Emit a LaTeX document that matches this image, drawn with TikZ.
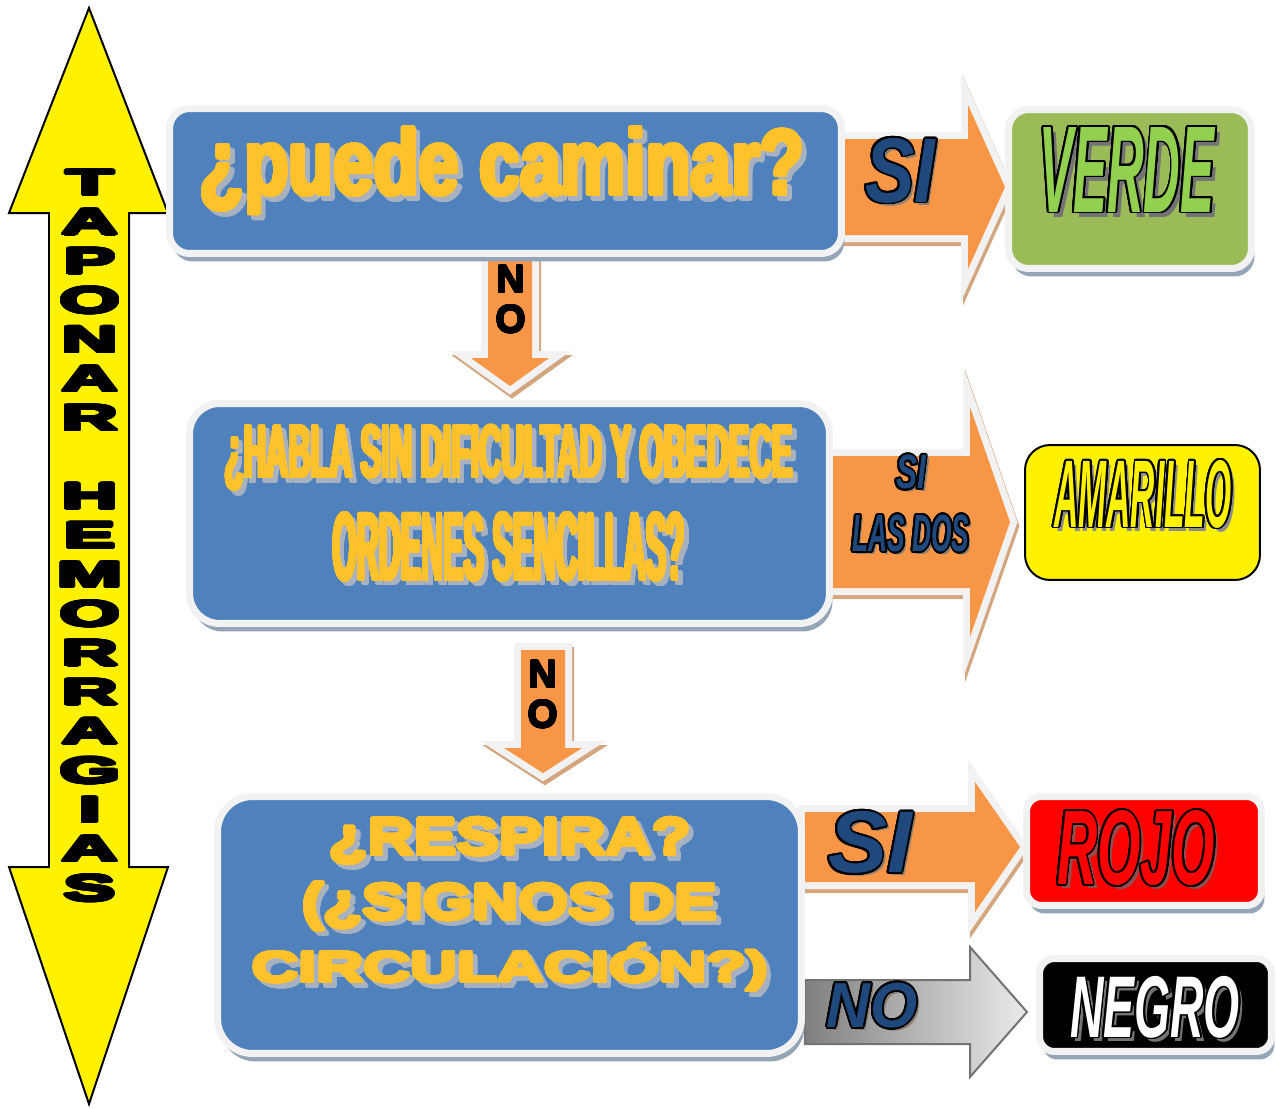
\documentclass[tikz,border=0pt]{standalone}
\usepackage{fontspec}
\usepackage{graphicx}
\usepackage{contour}
\usetikzlibrary{positioning,calc,backgrounds,shadows}

\newfontfamily\heavy{Liberation Sans Bold}
\newfontfamily\heavyit{Liberation Sans Bold Italic}

\definecolor{boxblue}{HTML}{4F81BD}
\definecolor{halo}{HTML}{F2F2F2}
\definecolor{boxshade}{HTML}{95A5B8}
\definecolor{arroworange}{HTML}{F79646}
\definecolor{arrowshade}{HTML}{D4A67F}
\definecolor{txtorange}{HTML}{FFC22B}
\definecolor{txtshade}{HTML}{A7B1C0}
\definecolor{sidark}{HTML}{1F497D}
\definecolor{lblshade}{HTML}{8A7E72}
\definecolor{verdebox}{HTML}{9BBB59}
\definecolor{verdetxt}{HTML}{92D050}

\contourlength{1pt}
\contournumber{20}

% letters made heavier by a contour of their own colour
\newcommand{\thick}[3]{{\contourlength{#1}\contour{#2}{#3}}}
% text with a drop shadow, squeezed to width #3 and height #4
\newcommand{\shtxt}[6][0.09cm]{%
  \rlap{\kern#1\raisebox{-#1}{\color{#5}\thick{#2}{#5}{\resizebox*{#3}{#4}{#6}}}}%
  \thick{#2}{txtorange}{\resizebox*{#3}{#4}{#6}}}
% drop shadow and black outline
\newcommand{\oltxt}[5][0.06cm]{%
  \rlap{\kern#1\raisebox{-#1}{\textcolor{#4}{\resizebox*{#2}{#3}{#5}}}}%
  \contour{black}{\resizebox*{#2}{#3}{#5}}}

% block arrow: style, from, tip, half shaft, half head, head length
\newcommand{\rarrow}[6]{%
  \path[#1] ($(#2 |- #3)+(0,-#4)$) -- ($(#3)+(-#6,-#4)$) -- ($(#3)+(-#6,-#5)$) -- (#3)
    -- ($(#3)+(-#6,#5)$) -- ($(#3)+(-#6,#4)$) -- ($(#2 |- #3)+(0,#4)$) -- cycle;}
\newcommand{\darrow}[6]{%
  \path[#1] ($(#3 |- #2)+(-#4,0)$) -- ($(#3)+(-#4,-#6)$) -- ($(#3)+(-#5,-#6)$) -- (#3)
    -- ($(#3)+(#5,-#6)$) -- ($(#3)+(#4,-#6)$) -- ($(#3 |- #2)+(#4,0)$) -- cycle;}

\begin{document}
\begin{tikzpicture}[
    x=0.02cm, y=-0.02cm,
    qbox/.style={rectangle, draw=halo, line width=0.14cm, fill=boxblue, rounded corners=#1, inner sep=0,
      drop shadow={shadow xshift=0.06cm, shadow yshift=-0.16cm, fill=boxshade, opacity=1}},
    qbox/.default=0.4cm,
    qtext/.style={font=\heavy, text=txtorange, inner sep=0, align=center},
    lbl/.style={font=\heavyit, text=sidark, inner sep=0, align=center},
    notext/.style={font=\heavy\fontsize{22}{22.8}\selectfont, align=center, inner sep=0},
    blockarrow/.style={preaction={draw=arrowshade, line width=0.28cm, transform canvas={shift={(0.04cm,-0.08cm)}}},
      preaction={draw=halo, line width=0.28cm}, fill=arroworange},
    greyarrow/.style={draw=black!55, line width=0.04cm, left color=black!50, right color=black!8}
]
    \useasboundingbox (0,0) rectangle (1276,1109);

    % double arrow on the left
    \draw[fill=yellow, line width=0.04cm] (89,8) -- (168,213) -- (129,213) -- (129,867) -- (168,867)
      -- (89,1104) -- (9,867) -- (49,867) -- (49,213) -- (9,213) -- cycle;
    \node[inner sep=0] (tapon) at (90,541) {\heavy\fontsize{21}{22.3}\selectfont\scalebox{2.1}[1]{%
      \thick{0.75pt}{black}{\begin{tabular}{@{}c@{}}T\\A\\P\\O\\N\\A\\R\\ \\H\\E\\M\\O\\R\\R\\A\\G\\I\\A\\S\end{tabular}}}};

    % questions
    \node[qbox=0.4cm, minimum width=13.44cm, minimum height=2.9cm] (q1) at (505.5,181) {};
    \node[qbox=0.6cm, minimum width=12.8cm, minimum height=4.4cm] (q2) at (509.5,513.5) {};
    \node[qbox=0.7cm, minimum width=11.68cm, minimum height=5.14cm] (q3) at (509.5,925) {};

    \node[qtext] (q1t) at (502,174) {\shtxt{1.2pt}{12.1cm}{1.72cm}{txtshade}{¿puede caminar?}};
    \node[qtext] (q2t) at (509,506) {\shtxt{0.8pt}{11.36cm}{1.3cm}{txtshade}{¿HABLA SIN DIFICULTAD Y OBEDECE}\\[0.3cm]
      \shtxt{0.8pt}{7.04cm}{1.36cm}{txtshade}{ORDENES SENCILLAS?}};
    \node[qtext] (q3t) at (510,908) {\shtxt{1.1pt}{7.24cm}{0.9cm}{txtshade}{¿RESPIRA?}\\[0.22cm]
      \shtxt{1.1pt}{8.3cm}{0.94cm}{txtshade}{(¿SIGNOS DE}\\[0.12cm]
      \shtxt{1.1pt}{10.32cm}{0.94cm}{txtshade}{CIRCULACIÓN?)}};

    % answers
    \node[qbox=0.4cm, fill=verdebox, minimum width=4.86cm, minimum height=3.18cm] (verde) at (1130,189) {};
    \node[rectangle, rounded corners=0.5cm, draw=black, line width=0.04cm, fill=yellow,
      minimum width=4.7cm, minimum height=2.7cm] (amar) at (1142.5,512.5) {};
    \node[qbox=0.3cm, fill=red, minimum width=4.7cm, minimum height=2.18cm] (rojo) at (1144,851) {};
    \node[qbox=0.3cm, fill=black, minimum width=4.64cm, minimum height=1.86cm] (negro) at (1155.5,1005) {};

    \node[lbl, text=verdetxt] (verdet) at (1127,172) {\oltxt[0.1cm]{3.5cm}{1.7cm}{black!55}{VERDE}};
    \node[lbl, text=yellow] (amart) at (1143,496) {\oltxt[0.08cm]{3.54cm}{1.36cm}{black!45}{AMARILLO}};
    \node[lbl, text=red] (rojot) at (1136,850) {\oltxt[0.08cm]{3.16cm}{1.5cm}{red!40!black!70}{ROJO}};
    \node[lbl, text=white] (negrot) at (1155,1009) {\oltxt[0.08cm]{3.4cm}{1.24cm}{black!55}{NEGRO}};

    % arrows
    \coordinate (t1) at (1005,187);
    \coordinate (t2) at (1010,522);
    \coordinate (t3) at (1020,847);
    \coordinate (t4) at (1027,1012);
    \coordinate (d1) at (510,386);
    \coordinate (d2s) at (543,650);
    \coordinate (d2) at (543,773);
    \begin{scope}[on background layer]
        \rarrow{blockarrow}{q1.east}{t1}{48}{82}{37}
        \rarrow{blockarrow}{q2.east}{t2}{66}{115}{40}
        \rarrow{blockarrow}{q3.east}{t3}{35}{65}{45}
        \rarrow{greyarrow}{q3.east}{t4}{32}{65}{57}
        \darrow{blockarrow}{q1.south}{d1}{22}{39}{28}
        \darrow{blockarrow}{d2s}{d2}{22}{39}{25}
    \end{scope}

    \node[lbl] (si1) at (900,172) {\oltxt{1.4cm}{1.3cm}{lblshade}{SI}};
    \node[lbl] (si2) at (911,505) {\oltxt{0.6cm}{0.68cm}{lblshade}{SI}\\[0.42cm]
      \oltxt{2.34cm}{0.74cm}{lblshade}{LAS DOS}};
    \node[lbl] (si3) at (870,844) {\oltxt{1.68cm}{1.24cm}{lblshade}{SI}};
    \node[lbl] (no3) at (872,1007) {\oltxt{1.82cm}{0.9cm}{lblshade}{NO}};
    \node[notext] (no1) at (511,300) {\thick{0.5pt}{black}{N}\\\thick{0.5pt}{black}{O}};
    \node[notext] (no2) at (543,695) {\thick{0.5pt}{black}{N}\\\thick{0.5pt}{black}{O}};
\end{tikzpicture}
\end{document}
